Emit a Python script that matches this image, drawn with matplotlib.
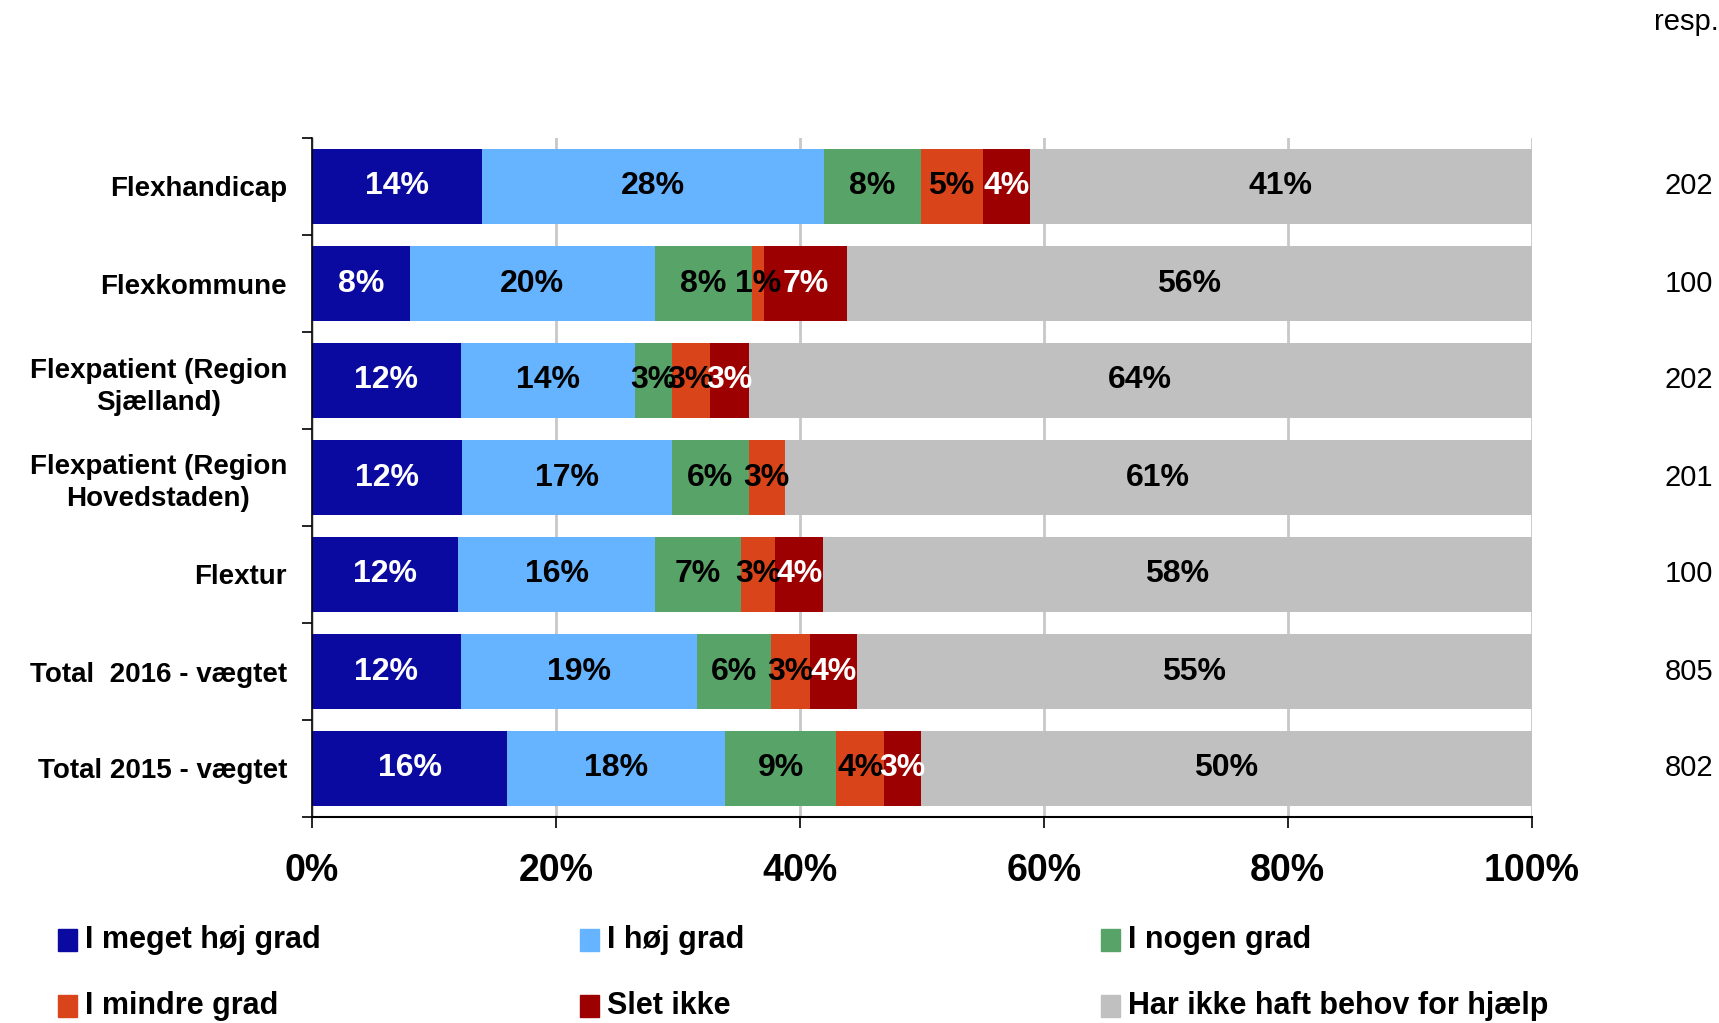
import matplotlib.pyplot as plt
from matplotlib.patches import Rectangle
import numpy as np

plt.rcParams['font.family'] = ['Liberation Sans', 'DejaVu Sans']

categories = ["Flexhandicap", "Flexkommune", "Flexpatient (Region\nSjælland)",
              "Flexpatient (Region\nHovedstaden)", "Flextur",
              "Total  2016 - vægtet", "Total 2015 - vægtet"]
resp = [202, 100, 202, 201, 100, 805, 802]

series = ["I meget høj grad", "I høj grad", "I nogen grad",
          "I mindre grad", "Slet ikke", "Har ikke haft behov for hjælp"]
meget_hoej = [13.9, 8.0, 12.2, 12.3, 12.0, 12.2, 16.0]
hoej = [28.1, 20.1, 14.3, 17.2, 16.1, 19.4, 17.9]
nogen = [7.9, 8.0, 3.0, 6.3, 7.1, 6.0, 9.1]
mindre = [5.1, 1.0, 3.1, 3.0, 2.8, 3.2, 3.9]
slet_ikke = [3.9, 6.8, 3.2, 0.0, 3.9, 3.9, 3.0]
ikke_behov = [41.1, 56.1, 64.2, 61.2, 58.1, 55.3, 50.1]

colors = ["#0A0AA0", "#66B3FF", "#58A368", "#D9441A", "#9C0000", "#C0C0C0"]
text_colors = ["white", "black", "black", "black", "white", "black"]

values = [meget_hoej, hoej, nogen, mindre, slet_ikke, ikke_behov]

fig = plt.figure(figsize=(17.19, 10.23), dpi=100)
ax = fig.add_axes([312 / 1719, 1 - 817 / 1023, (1531.5 - 312) / 1719, (817 - 138) / 1023])

y = np.arange(len(categories))
left = np.zeros(len(categories))
for vals, col, tcol in zip(values, colors, text_colors):
    vals = np.array(vals)
    ax.barh(y, vals, left=left, height=0.78, color=col, zorder=2)
    for yi, (l, v) in enumerate(zip(left, vals)):
        if v > 0:
            ax.text(l + v / 2, yi, f"{round(v)}%", ha='center', va='center',
                    color=tcol, fontsize=23, fontweight='bold', zorder=3)
    left += vals

ax.set_xlim(0, 100)
ax.set_ylim(len(categories) - 0.5, -0.5)
ax.set_xticks(np.arange(0, 101, 20))
ax.set_xticklabels([f"{t}%" for t in range(0, 101, 20)], fontsize=27, fontweight='bold')
ax.tick_params(axis='x', length=8, width=1.2, pad=18)
ax.set_yticks(y)
ax.set_yticklabels(categories, fontsize=20, fontweight='bold', linespacing=1.3)
ax.set_yticks(np.arange(-0.5, len(categories), 1), minor=True)
ax.tick_params(axis='y', which='major', length=0, pad=18)
ax.tick_params(axis='y', which='minor', length=7, width=1.2)
for lbl in ax.get_yticklabels():
    lbl.set_horizontalalignment('right')
    lbl.set_multialignment('center')

ax.grid(axis='x', color='#C8C8C8', linewidth=2, zorder=0)
ax.spines['top'].set_visible(False)
ax.spines['right'].set_visible(False)
ax.spines['left'].set_linewidth(1.2)
ax.spines['bottom'].set_linewidth(1.5)

for yi, n in zip(y, resp):
    ax.text(1.149, yi, str(n), transform=ax.get_yaxis_transform(), ha='right',
            va='center', fontsize=21, clip_on=False)
fig.text(1.0, 1 - 22 / 1023, "resp.", ha='right', va='center', fontsize=21)

# legend drawn by hand, two rows of three
leg_x = [58, 580, 1101]
leg_y = [940, 1006]
for i, (name, col) in enumerate(zip(series, colors)):
    px = leg_x[i % 3]
    py = leg_y[i // 3]
    fig.patches.append(Rectangle((px / 1719, 1 - (py + 11) / 1023), 19 / 1719, 22 / 1023,
                                 color=col, transform=fig.transFigure))
    fig.text((px + 27) / 1719, 1 - py / 1023, name, ha='left', va='center',
             fontsize=22, fontweight='bold')

fig.savefig('out.png', dpi=100)
